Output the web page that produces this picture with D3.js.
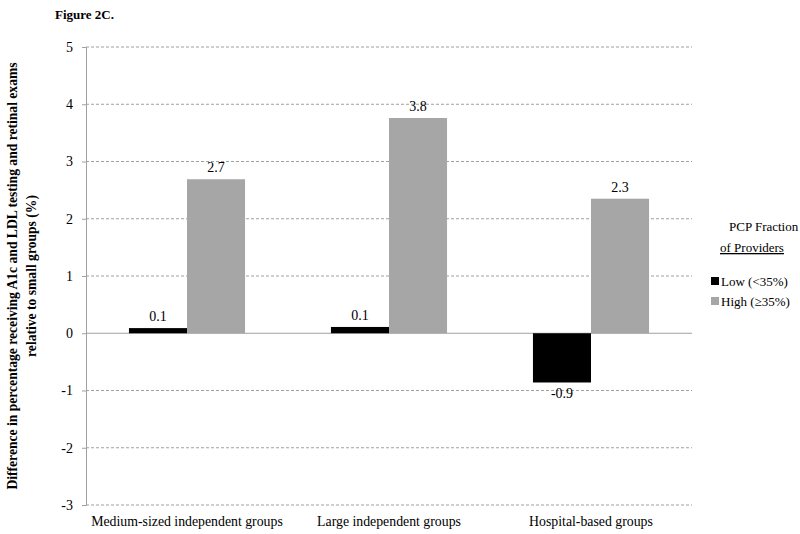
<!DOCTYPE html>
<html><head><meta charset="utf-8">
<script src="https://cdn.jsdelivr.net/npm/d3@7"></script>
<style>body{margin:0;background:#fff}text{font-family:"Liberation Serif","Times New Roman",serif}</style>
</head><body>
<svg id="c" width="800" height="534"></svg>
<script>
const categories = ["Medium-sized independent groups","Large independent groups","Hospital-based groups"];
const seriesNames = ["Low (<35%)","High (\u226535%)"];
const lowValues = [0.09, 0.11, -0.86];
const highValues = [2.69, 3.76, 2.35];
const lowLabels = ["0.1","0.1","-0.9"];
const highLabels = ["2.7","3.8","2.3"];
const yTicks = [-3,-2,-1,0,1,2,3,4,5];
const colors = ["#000000","#a6a6a6"];

const svg = d3.select("#c");
const L = 86, R = 692, T = 47, B = 505;
const x0 = d3.scaleBand().domain(categories).range([L, R]).paddingInner(0).paddingOuter(0);
const x1 = d3.scaleBand().domain([0,1]).range([0, x0.bandwidth()]).paddingInner(0).paddingOuter(0.74);
const y = d3.scaleLinear().domain([-3,5]).range([B, T]);

svg.append("text").attr("x",55).attr("y",19).attr("font-size",13).attr("font-weight","bold").text("Figure 2C.");

// gridlines
svg.append("g").selectAll("line").data(yTicks).join("line")
  .attr("x1",L).attr("x2",R).attr("y1",d=>y(d)).attr("y2",d=>y(d))
  .attr("stroke","#a0a0a0").attr("stroke-width",1)
  .attr("stroke-dasharray",d=>d===0?null:"3,2");

// y axis
const ya = svg.append("g").attr("transform",`translate(${L},0)`)
  .call(d3.axisLeft(y).tickValues(yTicks).tickSize(4).tickFormat(d=>String(d)));
ya.select(".domain").attr("stroke","#a0a0a0");
ya.selectAll(".tick line").attr("stroke","#a0a0a0");
ya.selectAll(".tick text").attr("font-size",14).attr("fill","#000").attr("x",-13)
  .attr("font-family","Liberation Serif");

const data = categories.map((c,i)=>({c, vals:[lowValues[i],highValues[i]], labs:[lowLabels[i],highLabels[i]]}));
const g = svg.append("g").selectAll("g").data(data).join("g").attr("transform",d=>`translate(${x0(d.c)},0)`);
g.selectAll("rect").data(d=>d.vals.map((v,k)=>({v,k}))).join("rect")
  .attr("x",d=>x1(d.k)).attr("width",x1.bandwidth())
  .attr("y",d=>y(Math.max(0,d.v))).attr("height",d=>Math.abs(y(d.v)-y(0)))
  .attr("fill",d=>colors[d.k]);
g.selectAll("text").data(d=>d.vals.map((v,k)=>({v,k,l:d.labs[k]}))).join("text")
  .attr("x",d=>x1(d.k)+x1.bandwidth()/2)
  .attr("y",d=>d.v>=0? y(d.v)-7 : y(d.v)+16)
  .attr("text-anchor","middle").attr("font-size",14).attr("fill","#000").text(d=>d.l);

// category labels
svg.append("g").selectAll("text").data(categories).join("text")
  .attr("x",d=>x0(d)+x0.bandwidth()/2).attr("y",526).attr("text-anchor","middle")
  .attr("font-size",13.8).attr("fill","#000").text(d=>d);

// y title
const yt = svg.append("text").attr("transform","translate(0,276) rotate(-90)")
  .attr("text-anchor","middle").attr("font-size",13.6).attr("font-weight","bold");
yt.append("tspan").attr("x",0).attr("y",17).text("Difference in percentage receiving A1c and LDL testing and retinal exams");
yt.append("tspan").attr("x",0).attr("y",36).text("relative to small groups (%)");

// legend
svg.append("text").attr("x",729).attr("y",231).attr("font-size",13).text("PCP Fraction");
svg.append("text").attr("x",720).attr("y",252).attr("font-size",13).attr("text-decoration","underline").text("of Providers");
const lg = svg.append("g").selectAll("g").data(seriesNames).join("g")
  .attr("transform",(d,i)=>`translate(711,${286+i*20})`);
lg.append("rect").attr("x",0).attr("y",-9).attr("width",8).attr("height",8).attr("fill",(d,i)=>colors[i]);
lg.append("text").attr("x",10).attr("y",0).attr("font-size",13).text(d=>d);
</script>
</body></html>
